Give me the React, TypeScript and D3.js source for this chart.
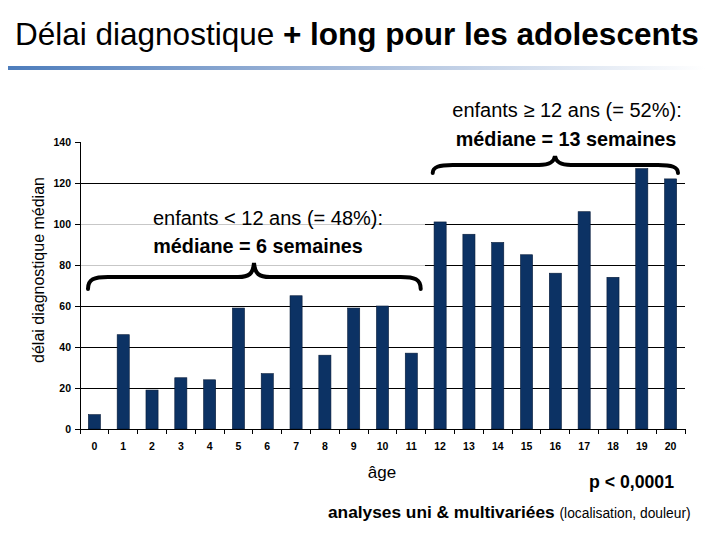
import { useEffect, useRef } from 'react';
import * as d3 from 'd3';

const ages = ['0', '1', '2', '3', '4', '5', '6', '7', '8', '9', '10', '11', '12', '13', '14', '15', '16', '17', '18', '19', '20'];
const medianDelay = [7, 46, 19, 25, 24, 59, 27, 65, 36, 59, 60, 37, 101, 95, 91, 85, 76, 106, 74, 127, 122];
const yTicks = [0, 20, 40, 60, 80, 100, 120, 140];

const FONT = '"Liberation Sans", Arial, sans-serif';

export default function App() {
    const svgRef = useRef<SVGSVGElement | null>(null);

    useEffect(() => {
        if (!svgRef.current) return;
        const svg = d3.select(svgRef.current);
        svg.selectAll('*').remove();

        const width = 720;
        const height = 540;
        const margin = { left: 80, right: 35, top: 142, bottom: 111 };

        svg.attr('width', width).attr('height', height).style('font-family', FONT);
        svg.append('rect').attr('width', width).attr('height', height).attr('fill', '#fff');

        // Title
        const title = svg.append('text').attr('x', 15).attr('y', 45).attr('font-size', 31.5).attr('fill', '#000');
        title.append('tspan').text('Délai diagnostique ');
        title.append('tspan').attr('font-weight', 'bold').text('+ long pour les adolescents');

        // Gradient rule under the title
        const defs = svg.append('defs');
        const grad = defs.append('linearGradient').attr('id', 'rule');
        grad.append('stop').attr('offset', '0%').attr('stop-color', '#4b7bbb');
        grad.append('stop').attr('offset', '45%').attr('stop-color', '#9fb6d8');
        grad.append('stop').attr('offset', '100%').attr('stop-color', '#ffffff');
        svg.append('rect').attr('x', 0).attr('y', 66).attr('width', 705).attr('height', 4).attr('fill', 'url(#rule)');

        const x = d3.scaleBand<string>()
            .domain(ages)
            .range([margin.left, width - margin.right])
            .paddingInner(0.58)
            .paddingOuter(0.29);

        const xb = d3.scaleBand<string>().domain(ages).range([margin.left, width - margin.right]);

        const y = d3.scaleLinear().domain([0, 140]).range([height - margin.bottom, margin.top]);

        // Gridlines
        svg.append('g')
            .selectAll('line')
            .data(yTicks.filter(t => t > 0 && t < 140))
            .join('line')
            .attr('x1', margin.left)
            .attr('x2', width - margin.right)
            .attr('y1', d => y(d))
            .attr('y2', d => y(d))
            .attr('stroke', '#000')
            .attr('stroke-width', 1)
            .attr('shape-rendering', 'crispEdges');

        // translucent box behind the left annotation
        svg.append('rect')
            .attr('x', 74).attr('y', 196).attr('width', 351).attr('height', 80)
            .attr('fill', '#fff').attr('opacity', 0.78);

        // Bars
        svg.append('g')
            .selectAll('rect')
            .data(medianDelay)
            .join('rect')
            .attr('x', (_, i) => x(ages[i]) as number)
            .attr('width', x.bandwidth())
            .attr('y', d => y(d))
            .attr('height', d => y(0) - y(d))
            .attr('fill', '#0c3264')
            .attr('stroke', '#061a38')
            .attr('stroke-width', 0.6);

        // Y axis
        const yAxis = svg.append('g')
            .attr('transform', `translate(${margin.left},0)`)
            .call(d3.axisLeft(y).tickValues(yTicks).tickSize(5).tickPadding(4).tickFormat(d3.format('d')));
        yAxis.select('.domain').attr('stroke', '#000').attr('shape-rendering', 'crispEdges');
        yAxis.selectAll('.tick line').attr('stroke', '#000').attr('shape-rendering', 'crispEdges');
        yAxis.selectAll('text')
            .attr('font-family', FONT)
            .attr('font-size', 10.5)
            .attr('font-weight', 'bold')
            .attr('fill', '#000');

        // X axis: line + boundary ticks + labels
        const xAxisG = svg.append('g');
        xAxisG.append('line')
            .attr('x1', margin.left).attr('x2', width - margin.right)
            .attr('y1', y(0)).attr('y2', y(0))
            .attr('stroke', '#000').attr('shape-rendering', 'crispEdges');
        const bounds = ages.map(a => xb(a) as number).concat([width - margin.right]);
        xAxisG.selectAll('line.tk')
            .data(bounds)
            .join('line')
            .attr('class', 'tk')
            .attr('x1', d => d).attr('x2', d => d)
            .attr('y1', y(0)).attr('y2', y(0) + 5)
            .attr('stroke', '#000').attr('shape-rendering', 'crispEdges');
        xAxisG.selectAll('text')
            .data(ages)
            .join('text')
            .attr('x', d => (xb(d) as number) + xb.bandwidth() / 2)
            .attr('y', y(0) + 21)
            .attr('text-anchor', 'middle')
            .attr('font-size', 10.5)
            .attr('font-weight', 'bold')
            .text(d => d);

        // Y axis title
        svg.append('text')
            .attr('transform', 'translate(44,270) rotate(-90)')
            .attr('text-anchor', 'middle')
            .attr('font-size', 16)
            .text('délai diagnostique médian');

        // X axis title
        svg.append('text')
            .attr('x', 382).attr('y', 478)
            .attr('text-anchor', 'middle')
            .attr('font-size', 17)
            .text('âge');

        // Braces
        const brace = (x1: number, x2: number, tipX: number, yH: number, e: number, t: number) => {
            const p = d3.path();
            p.moveTo(x1, yH + e);
            p.bezierCurveTo(x1, yH + 2, x1 + 6, yH, x1 + 20, yH);
            p.lineTo(tipX - 16, yH);
            p.bezierCurveTo(tipX - 5, yH, tipX - 1, yH - 3, tipX, yH - t);
            p.bezierCurveTo(tipX + 1, yH - 3, tipX + 5, yH, tipX + 16, yH);
            p.lineTo(x2 - 20, yH);
            p.bezierCurveTo(x2 - 6, yH, x2, yH + 2, x2, yH + e);
            return p.toString();
        };

        const leftStart = (xb('0') as number) + 8;
        const leftEnd = (xb('11') as number) + xb.bandwidth() - 5;
        svg.append('path')
            .attr('d', brace(leftStart, leftEnd, 254, 277, 12, 14))
            .attr('fill', 'none').attr('stroke', '#000').attr('stroke-width', 4).attr('stroke-linecap', 'round');

        const rightStart = (xb('12') as number) + 7;
        const rightEnd = (xb('20') as number) + xb.bandwidth() - 7;
        svg.append('path')
            .attr('d', brace(rightStart, rightEnd, 555, 165, 8, 9))
            .attr('fill', 'none').attr('stroke', '#000').attr('stroke-width', 4).attr('stroke-linecap', 'round');

        // Annotations
        svg.append('text').attr('x', 268).attr('y', 225).attr('text-anchor', 'middle')
            .attr('font-size', 20).text('enfants < 12 ans (= 48%):');
        svg.append('text').attr('x', 258).attr('y', 253).attr('text-anchor', 'middle')
            .attr('font-size', 19.8).attr('font-weight', 'bold').text('médiane = 6 semaines');

        svg.append('text').attr('x', 567).attr('y', 117).attr('text-anchor', 'middle')
            .attr('font-size', 20).text('enfants ≥ 12 ans (= 52%):');
        svg.append('text').attr('x', 566).attr('y', 146).attr('text-anchor', 'middle')
            .attr('font-size', 19.8).attr('font-weight', 'bold').text('médiane = 13 semaines');

        // Bottom notes
        svg.append('text').attr('x', 674).attr('y', 488).attr('text-anchor', 'end')
            .attr('font-size', 17.7).attr('font-weight', 'bold').text('p < 0,0001');

        const note = svg.append('text').attr('x', 328).attr('y', 518);
        note.append('tspan').attr('font-weight', 'bold').attr('font-size', 17.3).text('analyses uni & multivariées ');
        note.append('tspan').attr('font-size', 13.8).text('(localisation, douleur)');
    }, []);

    return <svg ref={svgRef} style={{ display: 'block', margin: '-8px' }}></svg>;
}
